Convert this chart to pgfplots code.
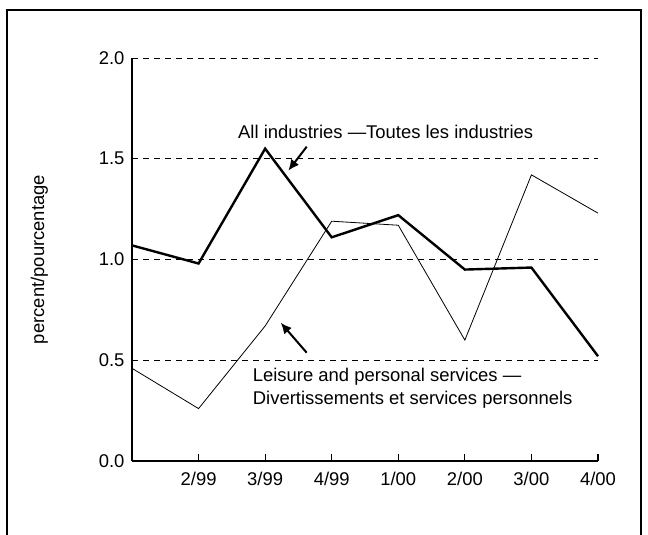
\documentclass[border=0pt]{standalone}
\usepackage{fontspec}
\setmainfont{Liberation Sans}
\usepackage{pgfplots}
\pgfplotsset{compat=1.18}
\usetikzlibrary{arrows.meta}
\begin{document}
\begin{tikzpicture}[x=1bp,y=1bp]
\path[use as bounding box] (0,0) rectangle (648,535);
\draw[line width=1.6bp] (7,0) -- (7,525) -- (641,525) -- (641,0);
\begin{axis}[
  at={(132bp,74bp)}, anchor=south west,
  scale only axis, width=466bp, height=403bp,
  xmin=0, xmax=7, ymin=0, ymax=2,
  axis x line*=bottom, axis y line*=left,
  axis line style={line width=1.3bp},
  xtick={1,2,3,4,5,6,7},
  xticklabels={2/99,3/99,4/99,1/00,2/00,3/00,4/00},
  x tick style={line width=1.1bp, black},
  tick align=inside, major tick length=7bp,
  ytick={0,0.5,1,1.5,2},
  y tick style={draw=none},
  yticklabel style={/pgf/number format/fixed, /pgf/number format/fixed zerofill, /pgf/number format/precision=1, xshift=-4bp},
  /pgf/number format/assume math mode=true,
  ymajorgrids,
  grid style={dashed, black, line width=0.7bp, dash pattern=on 6bp off 5bp},
  ticklabel style={font=\fontsize{18.5}{22}\selectfont},
  xticklabel style={yshift=-8bp},
  ylabel={percent/pourcentage},
  every axis y label/.style={at={(ticklabel cs:0.5)}, rotate=90, anchor=south, font=\fontsize{18.5}{22}\selectfont, yshift=44bp},
  clip=false,
]
\addplot[black, line width=2.4bp] coordinates {
 (0,1.07) (1,0.98) (2,1.55) (3,1.11) (4,1.22) (5,0.95) (6,0.96) (7,0.52)};
\addplot[black, line width=0.8bp] coordinates {
 (0,0.46) (1,0.26) (2,0.67) (3,1.19) (4,1.17) (5,0.60) (6,1.42) (7,1.23)};
\end{axis}
\node[anchor=west, font=\fontsize{18.5}{22}\selectfont, inner sep=0pt] at (238,403) {All industries —Toutes les industries};
\draw[line width=2bp, -{Latex[length=11bp,width=10bp]}] (306.7,388.3) -- (288.3,364.3);
\draw[line width=2bp, -{Latex[length=11bp,width=10bp]}] (306.7,182.3) -- (280.7,212.3);
\node[anchor=west, font=\fontsize{18.5}{22}\selectfont, inner sep=0pt] at (252.7,158) {Leisure and personal services —};
\node[anchor=west, font=\fontsize{18.5}{22}\selectfont, inner sep=0pt] at (252.7,135) {Divertissements et services personnels};
\end{tikzpicture}
\end{document}
